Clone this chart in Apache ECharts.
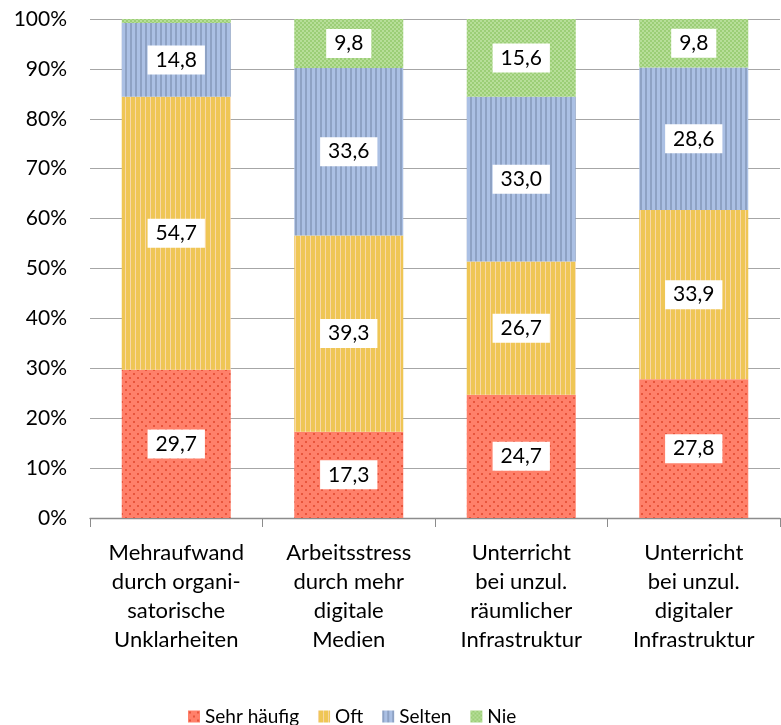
<!DOCTYPE html>
<html>
<head>
<meta charset="utf-8">
<script src="https://cdn.jsdelivr.net/npm/echarts@6/dist/echarts.min.js"></script>
<style>
  html, body { margin: 0; padding: 0; background: #fff; }
  #chart { width: 781px; height: 725px; }
</style>
</head>
<body>
<div id="chart"></div>
<script>
const categories = [
    'Mehraufwand\ndurch organi-\nsatorische\nUnklarheiten',
    'Arbeitsstress\ndurch mehr\ndigitale\nMedien',
    'Unterricht\nbei unzul.\nräumlicher\nInfrastruktur',
    'Unterricht\nbei unzul.\ndigitaler\nInfrastruktur',
];
const seriesNames = ['Sehr häufig', 'Oft', 'Selten', 'Nie'];
const sehrHaeufig = [29.7, 17.3, 24.7, 27.8];
const oft = [54.7, 39.3, 26.7, 33.9];
const selten = [14.8, 33.6, 33.0, 28.6];
const nie = [0.8, 9.8, 15.6, 9.8];
const yTicks = [0, 10, 20, 30, 40, 50, 60, 70, 80, 90, 100];

// kleine Musterkacheln wie in Excel
function makePattern(draw, w, h) {
    const c = document.createElement('canvas');
    c.width = w;
    c.height = h;
    draw(c.getContext('2d'));
    return { image: c, repeat: 'repeat' };
}

const redPattern = makePattern(ctx => {
    ctx.fillStyle = '#FF806A';
    ctx.fillRect(0, 0, 8, 8);
    ctx.fillStyle = '#E8553C';
    ctx.fillRect(1, 1, 2, 2);
    ctx.fillRect(5, 5, 2, 2);
}, 8, 8);

const yellowPattern = makePattern(ctx => {
    ctx.fillStyle = '#EFC655';
    ctx.fillRect(0, 0, 5, 4);
    ctx.fillStyle = '#F9D8A6';
    ctx.fillRect(0, 0, 1, 4);
}, 5, 4);

const bluePattern = makePattern(ctx => {
    ctx.fillStyle = '#ABC0E4';
    ctx.fillRect(0, 0, 5, 4);
    ctx.fillStyle = '#8EA2C4';
    ctx.fillRect(0, 0, 2, 4);
}, 5, 4);

const greenPattern = makePattern(ctx => {
    ctx.fillStyle = '#9CCE77';
    ctx.fillRect(0, 0, 4, 4);
    ctx.fillStyle = '#B7DE99';
    ctx.fillRect(0, 0, 2, 2);
    ctx.fillRect(2, 2, 2, 2);
}, 4, 4);

const patterns = [redPattern, yellowPattern, bluePattern, greenPattern];
const allValues = [sehrHaeufig, oft, selten, nie];

const FONT = 'Lato';

const chart = echarts.init(document.getElementById('chart'));

const series = allValues.map((values, i) => ({
    name: seriesNames[i],
    type: 'bar',
    stack: 'total',
    barWidth: 109,
    itemStyle: { color: patterns[i] },
    label: {
        show: true,
        position: 'inside',
        color: '#000',
        fontFamily: FONT,
        fontSize: 21,
        backgroundColor: '#fff',
        padding: [5, 8, 3, 8],
        formatter: p => p.value.toFixed(1).replace('.', ','),
    },
    data: values.map(v => (v < 3 ? { value: v, label: { show: false } } : v)),
}));

chart.setOption({
    animation: false,
    backgroundColor: '#fff',
    grid: { left: 90, right: 1, top: 19, bottom: 207 },
    legend: {
        bottom: -6,
        left: 183,
        itemWidth: 12,
        itemHeight: 12,
        itemGap: 19,
        itemStyle: { borderWidth: 0 },
        icon: 'rect',
        textStyle: { fontFamily: FONT, fontSize: 19, color: '#000' },
        data: seriesNames,
    },
    xAxis: {
        type: 'category',
        data: categories,
        axisLine: { lineStyle: { color: '#8c8c8c', width: 1.3 } },
        axisTick: { show: true, length: 9, lineStyle: { color: '#8c8c8c' } },
        axisLabel: {
            color: '#000',
            fontFamily: FONT,
            fontSize: 22,
            lineHeight: 29,
            margin: 20,
            interval: 0,
        },
    },
    yAxis: {
        type: 'value',
        min: yTicks[0],
        max: yTicks[yTicks.length - 1],
        interval: 10,
        axisLine: { show: false },
        axisTick: { show: false },
        axisLabel: {
            color: '#000',
            fontFamily: FONT,
            fontSize: 21,
            margin: 23,
            formatter: v => `${v}%`,
        },
        splitLine: { lineStyle: { color: '#a6a6a6', width: 1 } },
    },
    series,
});
</script>
</body>
</html>
